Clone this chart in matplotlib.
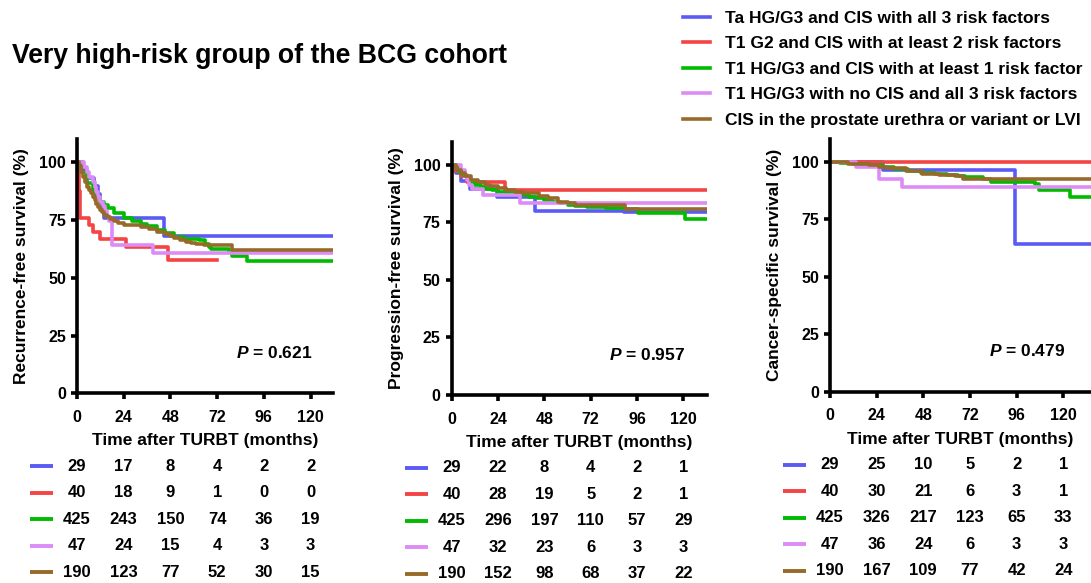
import matplotlib
matplotlib.use('Agg')
import matplotlib.pyplot as plt
from matplotlib.transforms import offset_copy

plt.rcParams['font.family'] = 'Liberation Sans'
plt.rcParams['font.weight'] = 'bold'
plt.rcParams['axes.labelweight'] = 'bold'
plt.rcParams['mathtext.fontset'] = 'custom'
plt.rcParams['mathtext.it'] = 'Liberation Sans:bold:italic'
plt.rcParams['mathtext.rm'] = 'Liberation Sans:bold'

groups = ['Ta HG/G3 and CIS with all 3 risk factors',
          'T1 G2 and CIS with at least 2 risk factors',
          'T1 HG/G3 and CIS with at least 1 risk factor',
          'T1 HG/G3 with no CIS and all 3 risk factors',
          'CIS in the prostate urethra or variant or LVI']
colors = ['#5a5af5', '#f44444', '#00bb00', '#dd8cf5', '#976a2a']
time_ticks = [0, 24, 48, 72, 96, 120]

# recurrence-free survival (step points, months / %)
rfs_t = [[0, 3, 5, 8.5, 11, 12, 13, 14, 44.5],
         [0, 0.5, 1, 1.5, 6, 8, 12, 25, 46.5],
         [0, 2, 5, 8, 10, 12, 14, 16, 19, 24, 28, 32.7, 36, 41.3, 45, 49.8, 55, 62.7, 66, 68, 69,
          78, 79.6, 87.2],
         [0, 3.5, 5, 6, 8, 9, 10, 11, 12, 13.5, 14.5, 15.5, 16.5, 18, 39],
         [0, 1, 2, 3, 4, 5, 6, 7, 8, 9, 10, 11, 12, 13, 14, 15.5, 17, 19, 21, 24, 28, 33, 37, 41, 45,
          48, 50, 53, 56, 58.4, 61, 65, 79.4]]
rfs_s = [[100, 96.6, 93.1, 89.7, 86.2, 82.8, 79.3, 75.9, 68.3],
         [100, 95, 87.5, 76, 73, 70, 67, 63.3, 57.7],
         [100, 96, 91, 87.5, 85, 83, 81.5, 80, 78, 75.7, 74.5, 73.1, 72.3, 70.7, 69.3, 67.8, 67,
          66.4, 64.8, 63.5, 62.3, 61, 59.6, 57.3],
         [100, 97.9, 95.7, 93.6, 91.5, 89.4, 87.2, 85.1, 83, 80.9, 78.7, 76.6, 74.5, 64.2, 60.6],
         [100, 98.5, 96, 93.5, 91.5, 89.5, 88, 86.5, 85, 83.5, 82, 80.5, 79.3, 78.3, 77.3, 76.3,
          75.5, 74.5, 73.8, 73, 72.7, 72.1, 71, 69.8, 68.8, 68.2, 67.2, 66.5, 65.6, 64.9, 64.5,
          64, 62]]
rfs_end = [132, 71.7, 132, 132, 132]
rfs_risk = [[29, 17, 8, 4, 2, 2], [40, 18, 9, 1, 0, 0], [425, 243, 150, 74, 36, 19],
            [47, 24, 15, 4, 3, 3], [190, 123, 77, 52, 30, 15]]

# progression-free survival
pfs_t = [[0, 2.2, 5, 9.5, 23.3, 43.2, 89],
         [0, 1.5, 5, 8, 27.6],
         [0, 2, 4, 6, 8, 10, 12, 15, 18, 21, 24, 28, 32, 36, 40, 44, 48, 52, 56, 60, 64, 70, 80,
          89.8, 96.7, 120.9],
         [0, 5, 7, 8, 9, 10.5, 16, 35.3],
         [0, 2, 3, 5, 7, 10, 13.6, 17, 20, 24, 28, 32.6, 37, 41.2, 45, 50, 55, 60, 63.9, 89.8]]
pfs_s = [[100, 96.6, 93.1, 89.7, 86.2, 80.1, 79.6],
         [100, 97.5, 95, 92.5, 89.2],
         [100, 98.5, 97, 95.5, 94, 92.5, 91.3, 90.3, 89.5, 89, 88.3, 87.8, 87.3, 86.8, 86.2, 85.5,
          84.8, 84, 83.4, 82.8, 82.2, 81.8, 81.3, 80.9, 79, 76.5],
         [100, 97.9, 95.7, 93.6, 91.5, 89.4, 86.8, 83.6],
         [100, 99, 98, 96.5, 95, 93.5, 92.5, 91.5, 90.8, 89.9, 89, 88.4, 88, 87.7, 86.5, 85.5, 84,
          83.3, 82.6, 80.9]]
pfs_end = [132, 132, 132, 132, 132]
pfs_risk = [[29, 22, 8, 4, 2, 1], [40, 28, 19, 5, 2, 1], [425, 296, 197, 110, 57, 29],
            [47, 32, 23, 6, 3, 3], [190, 152, 98, 68, 37, 22]]

# cancer-specific survival
css_t = [[0, 27.1, 95.2],
         [0],
         [0, 5, 12, 20, 27, 33, 40, 47, 54, 60, 66, 69.4, 78.7, 83, 105.4, 107.5, 123.5],
         [0, 13.4, 25.4, 37],
         [0, 9.1, 20.2, 25.4, 28.8, 39, 47.5, 56, 64.3, 68.6]]
css_s = [[100, 96.3, 64.2],
         [100],
         [100, 99.6, 99.2, 98.6, 97.6, 96.8, 96, 95.2, 94.6, 94.2, 93.8, 93.5, 92.4, 91.3, 90.3,
          87.6, 84.5],
         [100, 97.9, 92.5, 89],
         [100, 99.2, 98.6, 97.8, 97.1, 96, 94.8, 94.3, 93.9, 92.5]]
css_end = [135, 135, 135, 135, 135]
css_risk = [[29, 25, 10, 5, 2, 1], [40, 30, 21, 6, 3, 1], [425, 326, 217, 123, 65, 33],
            [47, 36, 24, 6, 3, 3], [190, 167, 109, 77, 42, 24]]

ylabels = ['Recurrence-free survival (%)', 'Progression-free survival (%)',
           'Cancer-specific survival (%)']
p_values = ['0.621', '0.957', '0.479']

fig = plt.figure(figsize=(10.91, 5.83), dpi=100)
positions = [[0.0706, 0.3254, 0.2346, 0.4359],
             [0.4140, 0.3225, 0.2337, 0.4340],
             [0.7608, 0.3281, 0.2392, 0.4340]]
xmax = [131.5, 132, 134.3]
row_offsets = [73, 99.5, 126, 152.5, 179]  # pixels below the x axis

panels = [(rfs_t, rfs_s, rfs_end, rfs_risk), (pfs_t, pfs_s, pfs_end, pfs_risk),
          (css_t, css_s, css_end, css_risk)]

handles = []
for k, (tt, ss, ends, risk) in enumerate(panels):
    ax = fig.add_axes(positions[k])
    for i in range(5):
        ln, = ax.step(tt[i] + [ends[i]], ss[i] + [ss[i][-1]], where='post',
                      color=colors[i], lw=2.6)
        if k == 0:
            handles.append(ln)
    ax.set_xlim(0, xmax[k])
    ax.set_ylim(0, 110)
    ax.set_xticks(time_ticks)
    ax.set_yticks([0, 25, 50, 75, 100])
    ax.spines[['top', 'right']].set_visible(False)
    for sp in ['left', 'bottom']:
        ax.spines[sp].set_linewidth(2.6)
    ax.tick_params(width=2.6, length=4, labelsize=11.5, pad=4)
    ax.tick_params(axis='x', pad=8)
    for lab in ax.get_xticklabels() + ax.get_yticklabels():
        lab.set_fontweight('bold')
    ax.set_ylabel(ylabels[k], fontsize=12.5, labelpad=7)
    ax.set_xlabel('Time after TURBT (months)', fontsize=12.5, labelpad=6)
    ax.text(120.8, 17.5, '$P$ = ' + p_values[k], fontsize=12.5, ha='right', va='center')

    # numbers at risk
    for i in range(5):
        tr = offset_copy(ax.transData, fig=fig, y=-row_offsets[i] * 0.72, units='points')
        ax.plot([-24, -12.5], [0, 0], color=colors[i], lw=2.8, transform=tr, clip_on=False,
                solid_capstyle='butt')
        for j, n in enumerate(risk[i]):
            ax.text(time_ticks[j], 0, str(n), transform=tr, ha='center', va='center',
                    fontsize=12, clip_on=False)

fig.text(12 / 1091, 1 - 63 / 583, 'Very high-risk group of the BCG cohort',
         fontsize=19.2, ha='left', va='baseline')

fig.legend(handles, groups, loc='upper left', bbox_to_anchor=(683 / 1091, 0.982),
           frameon=False, fontsize=12.5, handlelength=1.55, handletextpad=0.85,
           labelspacing=0.6, borderpad=0, borderaxespad=0)

fig.savefig('out.png', dpi=100)
